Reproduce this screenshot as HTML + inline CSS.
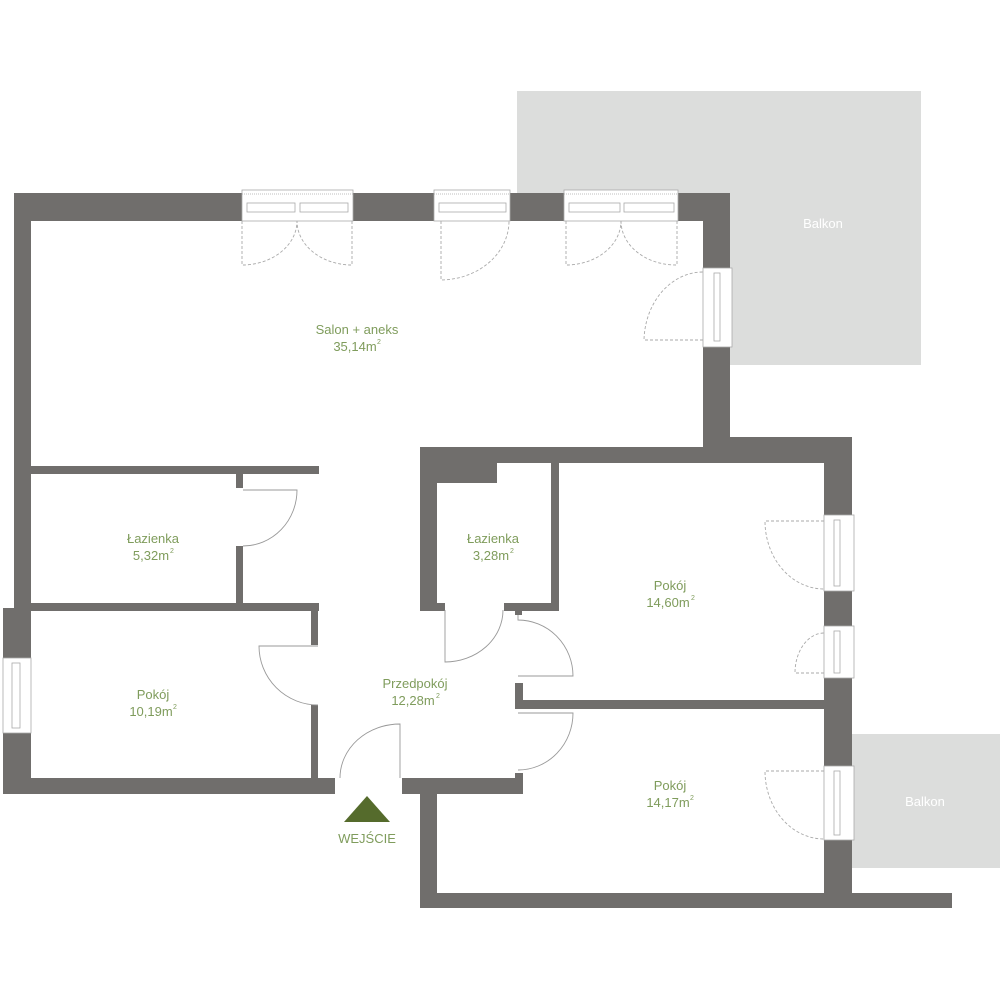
<!DOCTYPE html>
<html><head><meta charset="utf-8"><style>
html,body{margin:0;padding:0;background:#fff;width:1000px;height:1000px;overflow:hidden}
svg{display:block}
.t{font-family:"Liberation Sans",sans-serif;font-size:13px;fill:#7f9c5c;text-anchor:middle}
.b{font-family:"Liberation Sans",sans-serif;font-size:13px;fill:#fff;text-anchor:middle}
.s{font-family:"Liberation Sans",sans-serif;font-size:7px;fill:#7f9c5c}
</style></head><body>
<svg width="1000" height="1000" viewBox="0 0 1000 1000" xmlns="http://www.w3.org/2000/svg">
<rect x="517" y="91" width="404" height="274" fill="#dcdddc"/>
<rect x="852" y="734" width="148" height="134" fill="#dcdddc"/>
<rect x="31" y="221" width="672" height="226" fill="#fff"/>
<g fill="#706e6c">
<rect x="14" y="193" width="716" height="28"/>
<rect x="14" y="193" width="17" height="420"/>
<rect x="3" y="608" width="28" height="186"/>
<rect x="3" y="778" width="332" height="16"/>
<rect x="703" y="193" width="27" height="270"/>
<rect x="703" y="437" width="149" height="26"/>
<rect x="420" y="447" width="300" height="16"/>
<rect x="420" y="447" width="17" height="164"/>
<rect x="437" y="463" width="60" height="20"/>
<rect x="551" y="463" width="8" height="148"/>
<rect x="420" y="603" width="25" height="8"/>
<rect x="504" y="603" width="55" height="8"/>
<rect x="515" y="610" width="7" height="5"/>
<rect x="824" y="437" width="28" height="471"/>
<rect x="515" y="700" width="310" height="9"/>
<rect x="515" y="683" width="8" height="26"/>
<rect x="420" y="893" width="532" height="15"/>
<rect x="420" y="778" width="17" height="130"/>
<rect x="402" y="778" width="121" height="16"/>
<rect x="515" y="773" width="8" height="10"/>
<rect x="31" y="466" width="288" height="8"/>
<rect x="236" y="473" width="7" height="15"/>
<rect x="236" y="546" width="7" height="58"/>
<rect x="31" y="603" width="288" height="8"/>
<rect x="311" y="603" width="7" height="42"/>
<rect x="311" y="705" width="7" height="73"/>
</g>
<g fill="#fff" stroke="#aaa" stroke-width="0.8">
<rect x="242" y="190" width="111" height="31"/>
<rect x="434" y="190" width="76" height="31"/>
<rect x="564" y="190" width="114" height="31"/>
<rect x="703" y="268" width="29" height="79"/>
<rect x="824" y="515" width="30" height="76"/>
<rect x="824" y="626" width="30" height="52"/>
<rect x="824" y="766" width="30" height="74"/>
<rect x="3" y="658" width="28" height="75"/>
</g>
<g fill="none" stroke="#aaa" stroke-width="0.8">
<line x1="242" y1="194" x2="353" y2="194" stroke-dasharray="1,1"/>
<rect x="247" y="203" width="48" height="9"/><rect x="300" y="203" width="48" height="9"/>
<line x1="434" y1="194" x2="510" y2="194" stroke-dasharray="1,1"/>
<rect x="439" y="203" width="67" height="9"/>
<line x1="564" y1="194" x2="678" y2="194" stroke-dasharray="1,1"/>
<rect x="569" y="203" width="51" height="9"/><rect x="624" y="203" width="50" height="9"/>
<rect x="714" y="273" width="6" height="68"/>
<rect x="834" y="520" width="6" height="66"/>
<rect x="834" y="631" width="6" height="42"/>
<rect x="834" y="771" width="6" height="64"/>
<rect x="12" y="663" width="8" height="65"/>
</g>
<g fill="none" stroke="#aaa" stroke-width="0.9" stroke-dasharray="3,2">
<path d="M242 221 V265 A55 44 0 0 0 297 221"/>
<path d="M352 221 V265 A55 44 0 0 1 297 221"/>
<path d="M441 221 V280 A69 59 0 0 0 509 221"/>
<path d="M566 221 V265 A55 44 0 0 0 621 221"/>
<path d="M677 221 V265 A55 44 0 0 1 621 221"/>
<path d="M703 340 H644 A59 70 0 0 1 703 272"/>
<path d="M824 521 H765 A59 68 0 0 0 824 589"/>
<path d="M824 673 H795 A29 40 0 0 1 824 633"/>
<path d="M824 771 H765 A59 68 0 0 0 824 839"/>
</g>
<g fill="none" stroke="#999" stroke-width="0.9">
<path d="M243 490 H297 A54 56 0 0 1 243 546"/>
<path d="M318 646 H259 A59 59 0 0 0 318 705"/>
<path d="M400 778 V724 A60 54 0 0 0 340 778"/>
<path d="M445 610 V662 A58 52 0 0 0 503 610"/>
<path d="M518 615 V620 A55 56 0 0 1 573 676 H518"/>
<path d="M518 713 H573 A55 57 0 0 1 518 770"/>
</g>
<text class="t" x="357" y="334">Salon + aneks</text><text class="t" x="355" y="351">35,14m</text><text class="s" x="377" y="344">2</text>
<text class="t" x="153" y="543">Łazienka</text><text class="t" x="151" y="560">5,32m</text><text class="s" x="170" y="553">2</text>
<text class="t" x="493" y="543">Łazienka</text><text class="t" x="491" y="560">3,28m</text><text class="s" x="510" y="553">2</text>
<text class="t" x="670" y="590">Pokój</text><text class="t" x="668" y="607">14,60m</text><text class="s" x="691" y="600">2</text>
<text class="t" x="153" y="699">Pokój</text><text class="t" x="151" y="716">10,19m</text><text class="s" x="173" y="709">2</text>
<text class="t" x="415" y="688">Przedpokój</text><text class="t" x="413" y="705">12,28m</text><text class="s" x="436" y="698">2</text>
<text class="t" x="670" y="790">Pokój</text><text class="t" x="668" y="807">14,17m</text><text class="s" x="690" y="800">2</text>
<text class="b" x="823" y="228">Balkon</text>
<text class="b" x="925" y="806">Balkon</text>
<polygon points="367,796 390,822 344,822" fill="#556b2c"/>
<text class="t" x="367" y="843">WEJŚCIE</text>
</svg>
</body></html>
